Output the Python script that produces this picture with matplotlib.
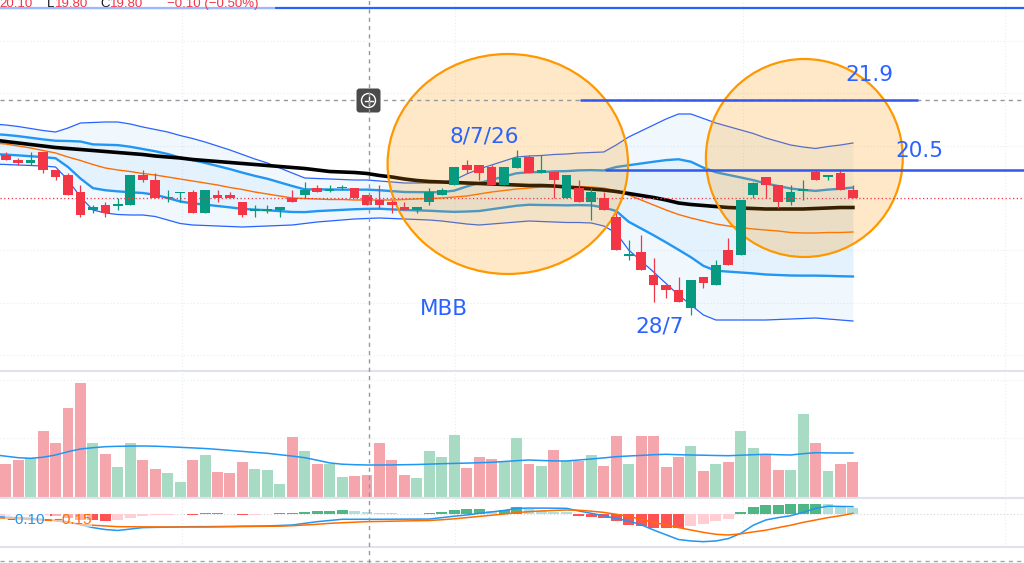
import numpy as np
import matplotlib
matplotlib.use('Agg')
import matplotlib.pyplot as plt
from matplotlib.patches import Ellipse, FancyBboxPatch, Circle, Rectangle
from matplotlib.lines import Line2D

plt.rcParams['font.family'] = ['DejaVu Sans']

# MBB daily candles (price in thousand VND), bar 0 = first bar on screen
opens = [20.80, 20.70, 20.65, 20.85, 20.50, 20.40, 20.05, 19.70, 19.80, 19.80,
         19.80, 20.40, 20.30, 19.95, 20.05, 20.05, 19.65, 20.00, 20.00, 19.85,
         19.70, 19.70, 19.70, 19.95, 20.00, 20.15, 20.10, 20.15, 20.15, 20.00,
         19.90, 19.85, 19.75, 19.70, 19.85, 20.00, 20.20, 20.60, 20.60, 20.55,
         20.20, 20.55, 20.75, 20.45, 20.45, 19.95, 20.15, 19.85, 19.95, 19.55,
         18.80, 18.85, 18.40, 18.20, 18.10, 17.75, 18.35, 18.20, 18.90, 18.80,
         20.00, 20.35, 20.20, 19.85, 20.10, 20.45, 20.35, 20.45, 20.10]
highs = [20.85, 20.75, 20.85, 20.85, 20.50, 20.45, 20.20, 19.80, 19.85, 19.95,
         20.40, 20.50, 20.45, 20.10, 20.05, 20.10, 20.10, 20.10, 20.05, 19.85,
         19.80, 19.80, 19.75, 20.10, 20.25, 20.20, 20.20, 20.20, 20.15, 20.00,
         20.20, 19.90, 19.85, 19.75, 20.15, 20.15, 20.55, 20.70, 20.60, 20.60,
         20.55, 20.90, 20.80, 20.80, 20.45, 20.40, 20.30, 20.15, 20.05, 19.65,
         19.10, 19.20, 18.75, 18.20, 18.35, 18.30, 18.35, 18.70, 19.15, 19.90,
         20.25, 20.35, 20.20, 20.20, 20.30, 20.50, 20.40, 20.50, 20.20]
lows = [20.70, 20.60, 20.60, 20.45, 20.30, 20.00, 19.55, 19.65, 19.55, 19.70,
        19.80, 20.25, 19.95, 19.85, 19.85, 19.65, 19.65, 19.85, 19.95, 19.55,
        19.55, 19.65, 19.55, 19.85, 19.95, 20.05, 20.05, 20.10, 19.95, 19.80,
        19.75, 19.65, 19.70, 19.65, 19.80, 20.00, 20.20, 20.45, 20.30, 20.20,
        20.20, 20.55, 20.45, 20.45, 19.95, 19.95, 19.85, 19.50, 19.70, 18.90,
        18.70, 18.50, 17.85, 17.95, 17.85, 17.60, 18.15, 18.20, 18.60, 18.80,
        19.95, 19.95, 19.75, 19.80, 19.90, 20.30, 20.30, 20.10, 19.95]
closes = [20.70, 20.65, 20.70, 20.50, 20.35, 20.00, 19.60, 19.75, 19.65, 19.80,
          20.40, 20.30, 19.95, 19.95, 20.05, 19.65, 20.10, 19.95, 19.95, 19.60,
          19.70, 19.70, 19.75, 19.85, 20.10, 20.05, 20.10, 20.15, 19.95, 19.80,
          19.80, 19.80, 19.70, 19.75, 20.05, 20.10, 20.55, 20.50, 20.45, 20.20,
          20.55, 20.75, 20.45, 20.50, 20.30, 20.40, 19.85, 20.05, 19.70, 18.90,
          18.80, 18.50, 18.20, 18.10, 17.85, 18.30, 18.25, 18.60, 18.60, 19.90,
          20.25, 20.20, 19.85, 20.05, 20.10, 20.30, 20.40, 20.10, 19.95]
volume = [3.34, 3.77, 3.94, 6.67, 5.50, 8.94, 11.44, 5.50, 4.37, 3.07,
          5.50, 3.77, 2.87, 2.44, 1.57, 3.77, 4.27, 2.54, 2.47, 3.57,
          2.87, 2.80, 1.40, 6.04, 4.64, 3.40, 3.34, 2.10, 2.20, 2.27,
          5.50, 3.77, 2.27, 2.00, 4.64, 4.04, 6.27, 3.00, 4.04, 3.87,
          3.60, 5.97, 3.37, 3.17, 4.74, 3.70, 3.70, 4.27, 3.17, 6.14,
          3.34, 6.20, 6.20, 3.07, 4.10, 5.17, 2.64, 3.34, 3.57, 6.64,
          4.97, 4.24, 2.80, 2.80, 8.37, 5.50, 2.70, 3.40, 3.57]
macd_hist = [-0.03, -0.025, -0.02, -0.02, -0.04, -0.07, -0.11, -0.13, -0.14, -0.12,
             -0.07, -0.03, -0.02, -0.015, 0.015, -0.02, 0.02, 0.025, 0.015, -0.01,
             -0.005, -0.003, 0.02, 0.03, 0.045, 0.065, 0.07, 0.09, 0.07, 0.05,
             0.03, 0.02, 0.015, 0.01, 0.02, 0.045, 0.10, 0.105, 0.117, 0.073,
             0.095, 0.147, 0.103, 0.059, 0.058, 0.045, -0.03, -0.05, -0.07, -0.147,
             -0.23, -0.25, -0.28, -0.282, -0.285, -0.25, -0.196, -0.147, -0.09, 0.04,
             0.147, 0.20, 0.205, 0.22, 0.222, 0.224, 0.21, 0.18, 0.14]

# indicator lines, first value belongs to the bar just left of the screen (index -1)
bb_mid = [21.02, 21.005, 20.985, 20.96, 20.935, 20.91, 20.82, 20.70, 20.575, 20.55,
          20.535, 20.51, 20.48, 20.44, 20.38, 20.31, 20.265, 20.225, 20.18, 20.135,
          20.085, 20.045, 20.01, 19.965, 19.92, 19.885, 19.895, 19.90, 19.905, 19.91,
          19.915, 19.91, 19.895, 19.88, 19.875, 19.87, 19.865, 19.875, 19.92, 19.96,
          20.01, 20.06, 20.11, 20.13, 20.13, 20.135, 20.135, 20.145, 20.145, 20.12,
          20.12, 20.03, 19.98, 19.93, 19.875, 19.81, 19.71, 19.565, 19.47, 19.435,
          19.40, 19.365, 19.32, 19.29, 19.26, 19.245, 19.235, 19.245, 19.25, 19.26]
bb_dev2 = [0.40, 0.395, 0.385, 0.37, 0.355, 0.35, 0.52, 0.74, 0.875, 0.91,
           0.925, 0.91, 0.88, 0.87, 0.88, 0.88, 0.865, 0.835, 0.80, 0.765,
           0.725, 0.675, 0.63, 0.575, 0.52, 0.455, 0.435, 0.42, 0.405, 0.39,
           0.385, 0.37, 0.365, 0.36, 0.365, 0.37, 0.385, 0.425, 0.50, 0.56,
           0.59, 0.62, 0.65, 0.65, 0.66, 0.675, 0.685, 0.695, 0.705, 0.74,
           0.88, 1.13, 1.30, 1.47, 1.645, 1.81, 1.91, 1.965, 1.97, 1.935,
           1.90, 1.865, 1.82, 1.78, 1.74, 1.715, 1.695, 1.725, 1.75, 1.78]
ma_orange = [21.04, 21.02, 20.98, 20.94, 20.89, 20.84, 20.76, 20.69, 20.61, 20.54,
             20.50, 20.47, 20.43, 20.40, 20.36, 20.32, 20.28, 20.24, 20.20, 20.15,
             20.11, 20.06, 20.02, 19.98, 19.94, 19.93, 19.92, 19.91, 19.91, 19.90,
             19.90, 19.90, 19.90, 19.91, 19.92, 19.93, 19.94, 19.96, 19.98, 20.02,
             20.06, 20.09, 20.12, 20.14, 20.16, 20.17, 20.17, 20.17, 20.16, 20.14,
             20.08, 20.00, 19.90, 19.80, 19.70, 19.61, 19.54, 19.48, 19.42, 19.38,
             19.35, 19.32, 19.30, 19.28, 19.25, 19.24, 19.24, 19.25, 19.25, 19.26]
ma_black = [21.10, 21.07, 21.04, 21.01, 20.98, 20.95, 20.93, 20.91, 20.89, 20.87,
            20.85, 20.83, 20.81, 20.78, 20.76, 20.74, 20.71, 20.69, 20.67, 20.65,
            20.63, 20.61, 20.59, 20.57, 20.55, 20.53, 20.50, 20.47, 20.46, 20.45,
            20.43, 20.39, 20.36, 20.32, 20.29, 20.27, 20.26, 20.25, 20.24, 20.23,
            20.22, 20.21, 20.20, 20.19, 20.19, 20.18, 20.16, 20.14, 20.12, 20.10,
            20.07, 20.03, 19.99, 19.95, 19.90, 19.84, 19.81, 19.79, 19.77, 19.75,
            19.74, 19.73, 19.72, 19.72, 19.72, 19.72, 19.73, 19.74, 19.75, 19.75]
vol_ma = [4.30, 4.15, 4.00, 3.94, 4.05, 4.27, 4.60, 4.87, 5.00, 5.10,
          5.14, 5.16, 5.17, 5.15, 5.10, 5.04, 4.98, 4.92, 4.83, 4.73,
          4.63, 4.53, 4.44, 4.30, 4.16, 4.00, 3.75, 3.48, 3.35, 3.30,
          3.27, 3.27, 3.28, 3.30, 3.32, 3.36, 3.40, 3.43, 3.46, 3.50,
          3.54, 3.62, 3.70, 3.77, 3.72, 3.68, 3.67, 3.77, 3.87, 3.98,
          4.10, 4.17, 4.23, 4.30, 4.34, 4.30, 4.27, 4.25, 4.22, 4.20,
          4.25, 4.30, 4.34, 4.30, 4.27, 4.40, 4.50, 4.48, 4.47, 4.47]
macd_line = [-0.05, -0.06, -0.07, -0.085, -0.11, -0.13, -0.155, -0.22, -0.28, -0.32,
             -0.34, -0.31, -0.28, -0.275, -0.27, -0.265, -0.26, -0.26, -0.257, -0.254,
             -0.25, -0.248, -0.245, -0.235, -0.225, -0.19, -0.155, -0.13, -0.105, -0.105,
             -0.105, -0.104, -0.103, -0.102, -0.101, -0.10, -0.07, -0.04, -0.015, 0.02,
             0.05, 0.08, 0.125, 0.13, 0.13, 0.128, 0.125, 0.07, 0.02, -0.03,
             -0.09, -0.14, -0.22, -0.33, -0.43, -0.53, -0.56, -0.575, -0.56, -0.51,
             -0.40, -0.23, -0.12, -0.07, -0.03, 0.04, 0.125, 0.17, 0.165, 0.16]
signal_line = [-0.07, -0.08, -0.095, -0.11, -0.12, -0.135, -0.17, -0.21, -0.23, -0.245,
               -0.26, -0.262, -0.264, -0.266, -0.267, -0.267, -0.267, -0.267, -0.265, -0.262,
               -0.258, -0.255, -0.252, -0.25, -0.24, -0.225, -0.21, -0.19, -0.178, -0.166,
               -0.155, -0.15, -0.145, -0.14, -0.135, -0.13, -0.115, -0.095, -0.07, -0.045,
               -0.02, 0.005, 0.035, 0.055, 0.07, 0.08, 0.09, 0.085, 0.065, 0.04,
               0.0, -0.04, -0.11, -0.17, -0.225, -0.28, -0.33, -0.38, -0.42, -0.435,
               -0.41, -0.37, -0.335, -0.28, -0.23, -0.17, -0.12, -0.07, -0.03, 0.02]

# hand drawn levels / notes on the chart
level_top = 23.75
level_hi, level_hi_from, level_hi_to = 21.9, 46.1, 73.2
level_lo, level_lo_from = 20.5, 48.1
crosshair_bar, crosshair_price = 29.24, 21.9
circles = [(40.3, 20.62, 19.3, 4.4), (64.1, 20.74, 15.8, 3.96)]  # x, y, w, h
notes = [('21.9', 69.3, 22.4), ('20.5', 73.3, 20.88), ('8/7/26', 38.4, 21.18),
         ('MBB', 35.2, 17.72), ('28/7', 52.5, 17.36)]

RED, GREEN = '#f23645', '#089981'
BLUE = '#2962ff'

W, H = 1024, 563
fig = plt.figure(figsize=(W / 100, H / 100), dpi=100)
fig.patch.set_facecolor('white')


def px_box(x0, y0, x1, y1):
    return [x0 / W, 1 - y1 / H, (x1 - x0) / W, (y1 - y0) / H]


ax = fig.add_axes(px_box(0, 0, W, 370))
axv = fig.add_axes(px_box(0, 372, W, 497.7))
axm = fig.add_axes(px_box(0, 499, W, 547))
for a in (ax, axv, axm):
    a.set_xlim(-0.457, 81.73)
    a.set_axis_off()
ax.set_ylim(16.5, 23.9)
axv.set_ylim(0, 12.57)
axm.set_ylim(-0.687, 0.321)

grid_kw = dict(color='#e9ecf2', lw=0.8, ls=(0, (1, 2)), zorder=0.5)
for gx in (14.15, 36.06, 59.2, 80.2):
    for a in (ax, axv, axm):
        a.axvline(gx, **grid_kw)
for gy in (23.07, 22.03, 20.98, 19.93, 18.89, 17.84, 16.8):
    ax.axhline(gy, **grid_kw)
for gy in (5.94, 11.77):
    axv.axhline(gy, **grid_kw)

# bollinger bands (2 sd outer, 1 sd inner) and moving averages
xi = np.arange(-1, len(closes))
mid = np.array(bb_mid)
dev = np.array(bb_dev2)
ax.fill_between(xi, mid - dev, mid + dev, color='#2196f3', alpha=0.065, lw=0, zorder=1)
ax.fill_between(xi, mid - dev / 2, mid + dev / 2, color='#2196f3', alpha=0.06, lw=0, zorder=1)
for band in (mid + dev, mid - dev):
    ax.plot(xi, band, color=BLUE, lw=0.9, zorder=2)
for band in (mid + dev / 2, mid - dev / 2):
    ax.plot(xi, band, color='#2196f3', lw=1.7, zorder=2)
ax.plot(xi, ma_orange, color='#ff6d00', lw=1.0, zorder=2.2)
ax.plot(xi, ma_black, color='black', lw=2.6, zorder=2.4)

for cx, cy, cw, ch in circles:
    ax.add_patch(Ellipse((cx, cy), cw, ch, facecolor=(1, 0.596, 0, 0.22),
                         edgecolor='#ff9800', lw=1.6, zorder=3))

# candles
idx = np.arange(len(closes))
o, hi, lo, c = (np.array(v) for v in (opens, highs, lows, closes))
up = c >= o
cols = np.where(up, GREEN, RED)
ax.vlines(idx, lo, hi, colors=cols, lw=0.9, zorder=4)
body = np.abs(c - o)
body_h = np.maximum(body, 0.025)
ax.bar(idx, body_h, bottom=np.minimum(o, c) - (body_h - body) / 2, width=0.78,
       color=cols, lw=0, zorder=4.5)

# levels, price line, crosshair
ax.axhline(level_top, color=BLUE, lw=1.6, zorder=5)
ax.hlines(level_hi, level_hi_from, level_hi_to, color='#3158e8', lw=1.8, zorder=5)
ax.hlines(level_lo, level_lo_from, 82, color='#3158e8', lw=1.8, zorder=5)
ax.axhline(closes[-1], color=RED, lw=0.9, ls=(0, (1, 2)), zorder=5)
ax.axhline(crosshair_price, color='#9598a1', lw=1, ls=(0, (3, 3)), zorder=4.8)

for s, tx, ty in notes:
    ax.text(tx, ty, s, color=BLUE, fontsize=15.5, ha='center', va='center', zorder=7)

# volume pane
vcols = np.where(up, '#a8dbc3', '#f5a6ad')
axv.bar(idx, volume, width=0.88, color=vcols, lw=0, zorder=2)
axv.plot(xi, vol_ma, color='#2196f3', lw=1.1, zorder=3)

# macd pane
hist = np.array(macd_hist)
prev = np.concatenate([[hist[0]], hist[:-1]])
hcols = np.where(hist >= 0, np.where(hist >= prev, '#4fb685', '#b2dfdb'),
                 np.where(hist < prev, '#ff5252', '#ffcdd2'))
axm.axhline(0, color='#d1d4dc', lw=0.8, ls=(0, (1, 2)), zorder=1)
axm.bar(idx, hist, width=0.88, color=hcols, lw=0, zorder=2)
axm.plot(xi, macd_line, color='#2196f3', lw=1.1, zorder=3)
axm.plot(xi, signal_line, color='#ff6d00', lw=1.1, zorder=3)

# pane separators and crosshair across the whole figure
for yy in (371, 498.3, 547):
    fig.add_artist(Line2D([0, 1], [1 - yy / H] * 2, color='#e0e3eb', lw=1.5, zorder=3))
fig.add_artist(Line2D([0, 1], [1 - 561 / H] * 2, color='#a3a6af', lw=1.0,
                      ls=(0, (3, 3)), zorder=3))
fig.add_artist(Line2D([369 / W] * 2, [0, 1], color='#9598a1', lw=1.0,
                      ls=(0, (3, 3)), zorder=4))

# crosshair icon
axi = fig.add_axes(px_box(356, 88, 381, 113))
axi.set_xlim(0, 25)
axi.set_ylim(0, 25)
axi.set_axis_off()
axi.add_patch(FancyBboxPatch((0.5, 0.5), 24, 24, boxstyle='round,pad=0,rounding_size=3',
                             fc='#4a4a4a', ec='none'))
axi.add_patch(Circle((12.5, 12.5), 7, fill=False, ec='white', lw=1.0))
axi.plot([8.5, 16.5], [12.5, 12.5], color='white', lw=1.0)
axi.plot([12.5, 12.5], [8.5, 16.5], color='white', lw=1.0)

# legend values (header cut at top, macd values)
fig.add_artist(Rectangle((0, 1 - 9 / H), 275 / W, 9 / H, transform=fig.transFigure,
                         fc='white', alpha=0.55, lw=0, zorder=5))
header = [('20.10', RED, -1), ('L', '#131722', 47), ('19.80', RED, 55),
          ('C', '#131722', 100), ('19.80', RED, 110), ('\u22120.10 (\u22120.50%)', RED, 167)]
for s, col, hx in header:
    fig.text(hx / W, 1 - 7 / H, s, color=col, fontsize=9.5, va='baseline',
             family=['Liberation Sans', 'DejaVu Sans'], zorder=6)
lab_bg = dict(boxstyle='square,pad=0.05', fc='white', ec='none', alpha=0.55)
fig.text(6 / W, 1 - 523.5 / H, '\u22120.10', color='#2196f3', fontsize=11,
         va='baseline', family=['Liberation Sans', 'DejaVu Sans'], zorder=6, bbox=lab_bg)
fig.text(53 / W, 1 - 523.5 / H, '\u22120.15', color='#ff6d00', fontsize=11,
         va='baseline', family=['Liberation Sans', 'DejaVu Sans'], zorder=6, bbox=lab_bg)

fig.savefig('out.png', dpi=100, facecolor='white')
